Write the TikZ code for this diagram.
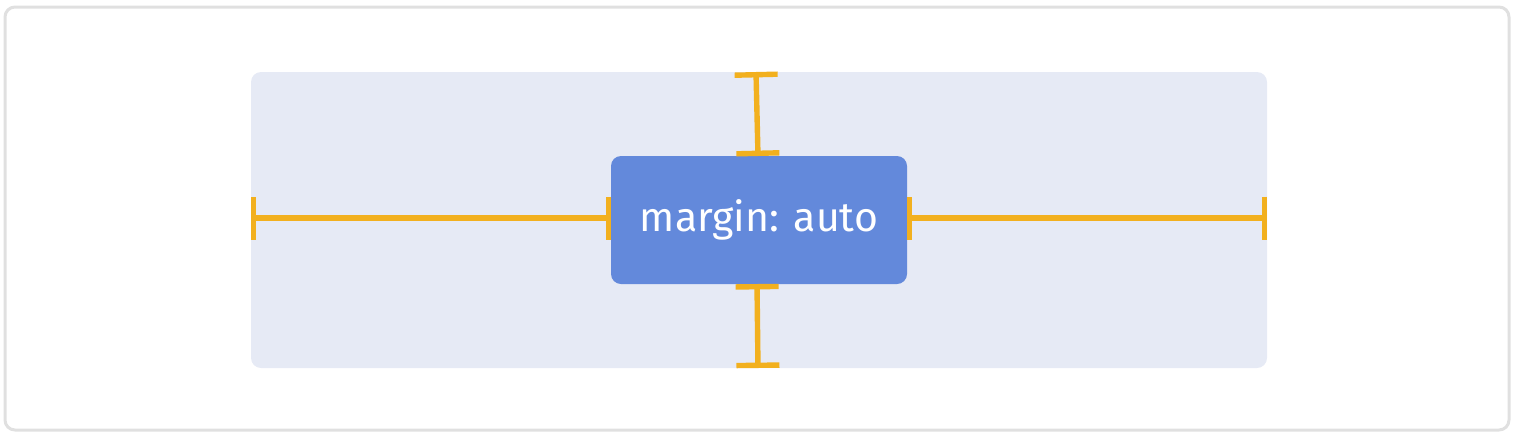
\documentclass[tikz,border=0pt]{standalone}
\usepackage{fontspec}
\setmainfont{Fira Sans}
\usetikzlibrary{arrows.meta}
\definecolor{framegray}{HTML}{E0E0E0}
\definecolor{contfill}{HTML}{E6EAF5}
\definecolor{boxfill}{HTML}{6389DB}
\definecolor{marg}{HTML}{F2B01E}
\begin{document}
\begin{tikzpicture}[x=0.5pt,y=-0.5pt,
  frame/.style={draw=framegray,line width=1.5pt,rounded corners=5pt},
  container/.style={fill=contfill,rounded corners=5pt,minimum width=508pt,minimum height=148pt,inner sep=0pt,outer sep=0pt},
  itembox/.style={fill=boxfill,rounded corners=5pt,minimum width=148pt,minimum height=64pt,inner sep=0pt,outer sep=0pt,text=white,font=\fontsize{20.5pt}{24pt}\selectfont},
  margline/.style={draw=marg,line width=2.7pt,{Bar[width=21.5pt,line width=2.7pt]}-{Bar[width=21.5pt,line width=2.7pt]}}
]
\useasboundingbox (0,0) rectangle (1522,440);
\draw[frame] (5,7) rectangle (1509,430);
\node[container] (cont) at (759,220) {};
\node[itembox] (box) at (759,220) {margin: auto};
\coordinate (lL) at (cont.west |- 0,218);
\coordinate (lR) at (box.west |- 0,218);
\coordinate (rL) at (box.east |- 0,218);
\coordinate (rR) at (cont.east |- 0,218);
\coordinate (tT) at (756,72);
\coordinate (tB) at (758,156);
\coordinate (bT) at (757,284);
\coordinate (bB) at (758,368);
\draw[margline] (lL) -- (lR);
\draw[margline] (rL) -- (rR);
\draw[margline] (tT) -- (tB);
\draw[margline] (bT) -- (bB);
\end{tikzpicture}
\end{document}
